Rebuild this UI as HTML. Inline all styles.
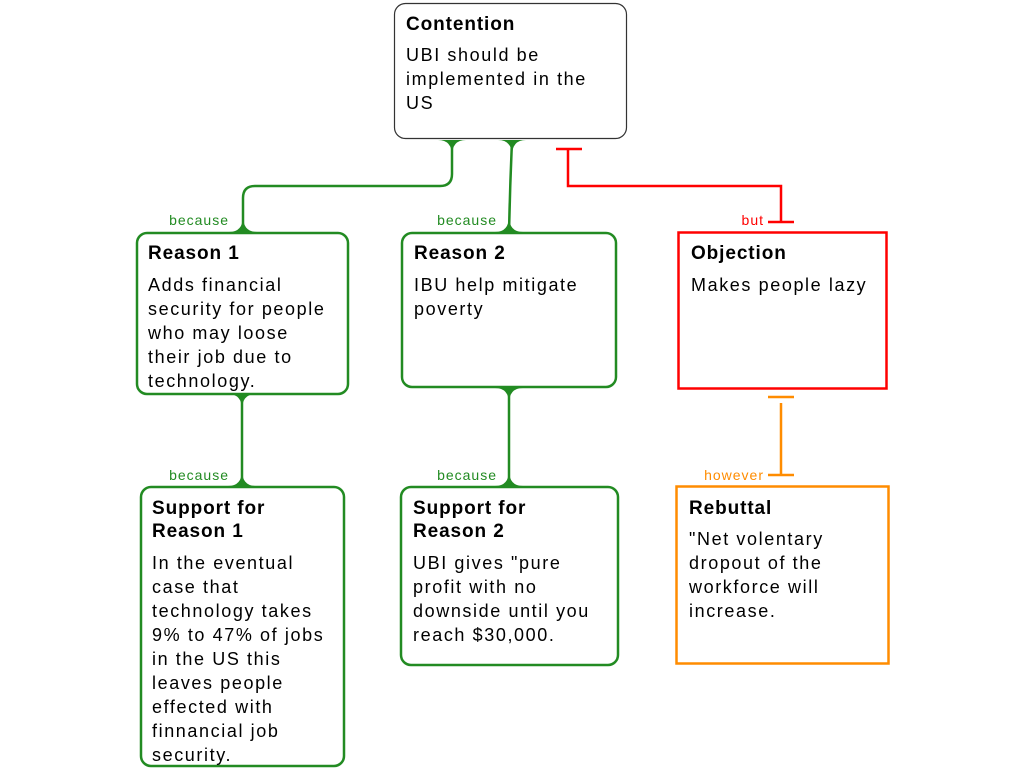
<!DOCTYPE html>
<html><head><meta charset="utf-8"><style>
html,body{margin:0;padding:0;background:#fff;width:1024px;height:768px;overflow:hidden}
svg{display:block}
.t{font-family:"Liberation Sans",sans-serif;font-weight:bold;font-size:19px;fill:#000;letter-spacing:0.9px}
.b{font-family:"Liberation Sans",sans-serif;font-size:18px;fill:#000;letter-spacing:1.6px}
.l{font-family:"Liberation Sans",sans-serif;font-size:14px;letter-spacing:1px}
</style></head><body>
<svg width="1024" height="768" viewBox="0 0 1024 768" xmlns="http://www.w3.org/2000/svg">
<g fill="none" stroke="#228B22" stroke-width="2.5">
<path d="M452 140 V174 Q452 186 440 186 H255 Q243 186 243 198 V232"/>
<path d="M512 140 Q510 186 509 232"/>
<path d="M242 394 V486"/>
<path d="M509 388 V486"/>
</g>
<g fill="#228B22">
<path d="M438 140 Q452 140 452 156 Q452 140 466 140 Z"/>
<path d="M498 140 Q512 140 512 156 Q512 140 526 140 Z"/>
<path d="M229 232 Q243 232 243 216 Q243 232 257 232 Z"/>
<path d="M495 232 Q509 232 509 216 Q509 232 523 232 Z"/>
<path d="M228 394 Q242 394 242 410 Q242 394 256 394 Z"/>
<path d="M495 388 Q509 388 509 404 Q509 388 523 388 Z"/>
<path d="M228 486 Q242 486 242 470 Q242 486 256 486 Z"/>
<path d="M495 486 Q509 486 509 470 Q509 486 523 486 Z"/>
</g>
<g fill="none" stroke="#f00" stroke-width="2.5">
<path d="M556 149 H582 M568 149 V186 H781 V222 M768 222 H794"/>
</g>
<g fill="none" stroke="#FF8C00" stroke-width="2.5">
<path d="M768 397 H794 M781 403 V475 M768 475 H794"/>
</g>
<text class="l" x="229" y="225" fill="#228B22" text-anchor="end">because</text>
<text class="l" x="497" y="225" fill="#228B22" text-anchor="end">because</text>
<text class="l" x="229" y="480" fill="#228B22" text-anchor="end">because</text>
<text class="l" x="497" y="480" fill="#228B22" text-anchor="end">because</text>
<text class="l" x="764" y="225" fill="#f00" text-anchor="end">but</text>
<text class="l" x="764" y="480" fill="#FF8C00" text-anchor="end">however</text>

<rect x="394.5" y="3.5" width="232" height="135" rx="11" fill="#fff" stroke="#333" stroke-width="1.2"/>
<text class="t" x="406" y="30">Contention</text>
<text class="b" x="406" y="61">UBI should be</text>
<text class="b" x="406" y="85">implemented in the</text>
<text class="b" x="406" y="109">US</text>

<rect x="137" y="233" width="211" height="161" rx="10" fill="#fff" stroke="#228B22" stroke-width="2.5"/>
<text class="t" x="148" y="259">Reason 1</text>
<text class="b" x="148" y="291">Adds financial</text>
<text class="b" x="148" y="315">security for people</text>
<text class="b" x="148" y="339">who may loose</text>
<text class="b" x="148" y="363">their job due to</text>
<text class="b" x="148" y="387">technology.</text>

<rect x="402" y="233" width="214" height="154" rx="10" fill="#fff" stroke="#228B22" stroke-width="2.5"/>
<text class="t" x="414" y="259">Reason 2</text>
<text class="b" x="414" y="291">IBU help mitigate</text>
<text class="b" x="414" y="315">poverty</text>

<rect x="678.5" y="232.5" width="208" height="156" fill="#fff" stroke="#f00" stroke-width="2.5"/>
<text class="t" x="691" y="259">Objection</text>
<text class="b" x="691" y="291">Makes people lazy</text>

<rect x="141" y="487" width="203" height="279" rx="10" fill="#fff" stroke="#228B22" stroke-width="2.5"/>
<text class="t" x="152" y="514">Support for</text>
<text class="t" x="152" y="537">Reason 1</text>
<text class="b" x="152" y="569">In the eventual</text>
<text class="b" x="152" y="593">case that</text>
<text class="b" x="152" y="617">technology takes</text>
<text class="b" x="152" y="641">9% to 47% of jobs</text>
<text class="b" x="152" y="665">in the US this</text>
<text class="b" x="152" y="689">leaves people</text>
<text class="b" x="152" y="713">effected with</text>
<text class="b" x="152" y="737">finnancial job</text>
<text class="b" x="152" y="761">security.</text>

<rect x="401" y="487" width="217" height="178" rx="10" fill="#fff" stroke="#228B22" stroke-width="2.5"/>
<text class="t" x="413" y="514">Support for</text>
<text class="t" x="413" y="537">Reason 2</text>
<text class="b" x="413" y="569">UBI gives "pure</text>
<text class="b" x="413" y="593">profit with no</text>
<text class="b" x="413" y="617">downside until you</text>
<text class="b" x="413" y="641">reach $30,000.</text>

<rect x="676.5" y="486.5" width="212" height="177" fill="#fff" stroke="#FF8C00" stroke-width="2.5"/>
<text class="t" x="689" y="514">Rebuttal</text>
<text class="b" x="689" y="545">"Net volentary</text>
<text class="b" x="689" y="569">dropout of the</text>
<text class="b" x="689" y="593">workforce will</text>
<text class="b" x="689" y="617">increase.</text>
</svg>
</body></html>
